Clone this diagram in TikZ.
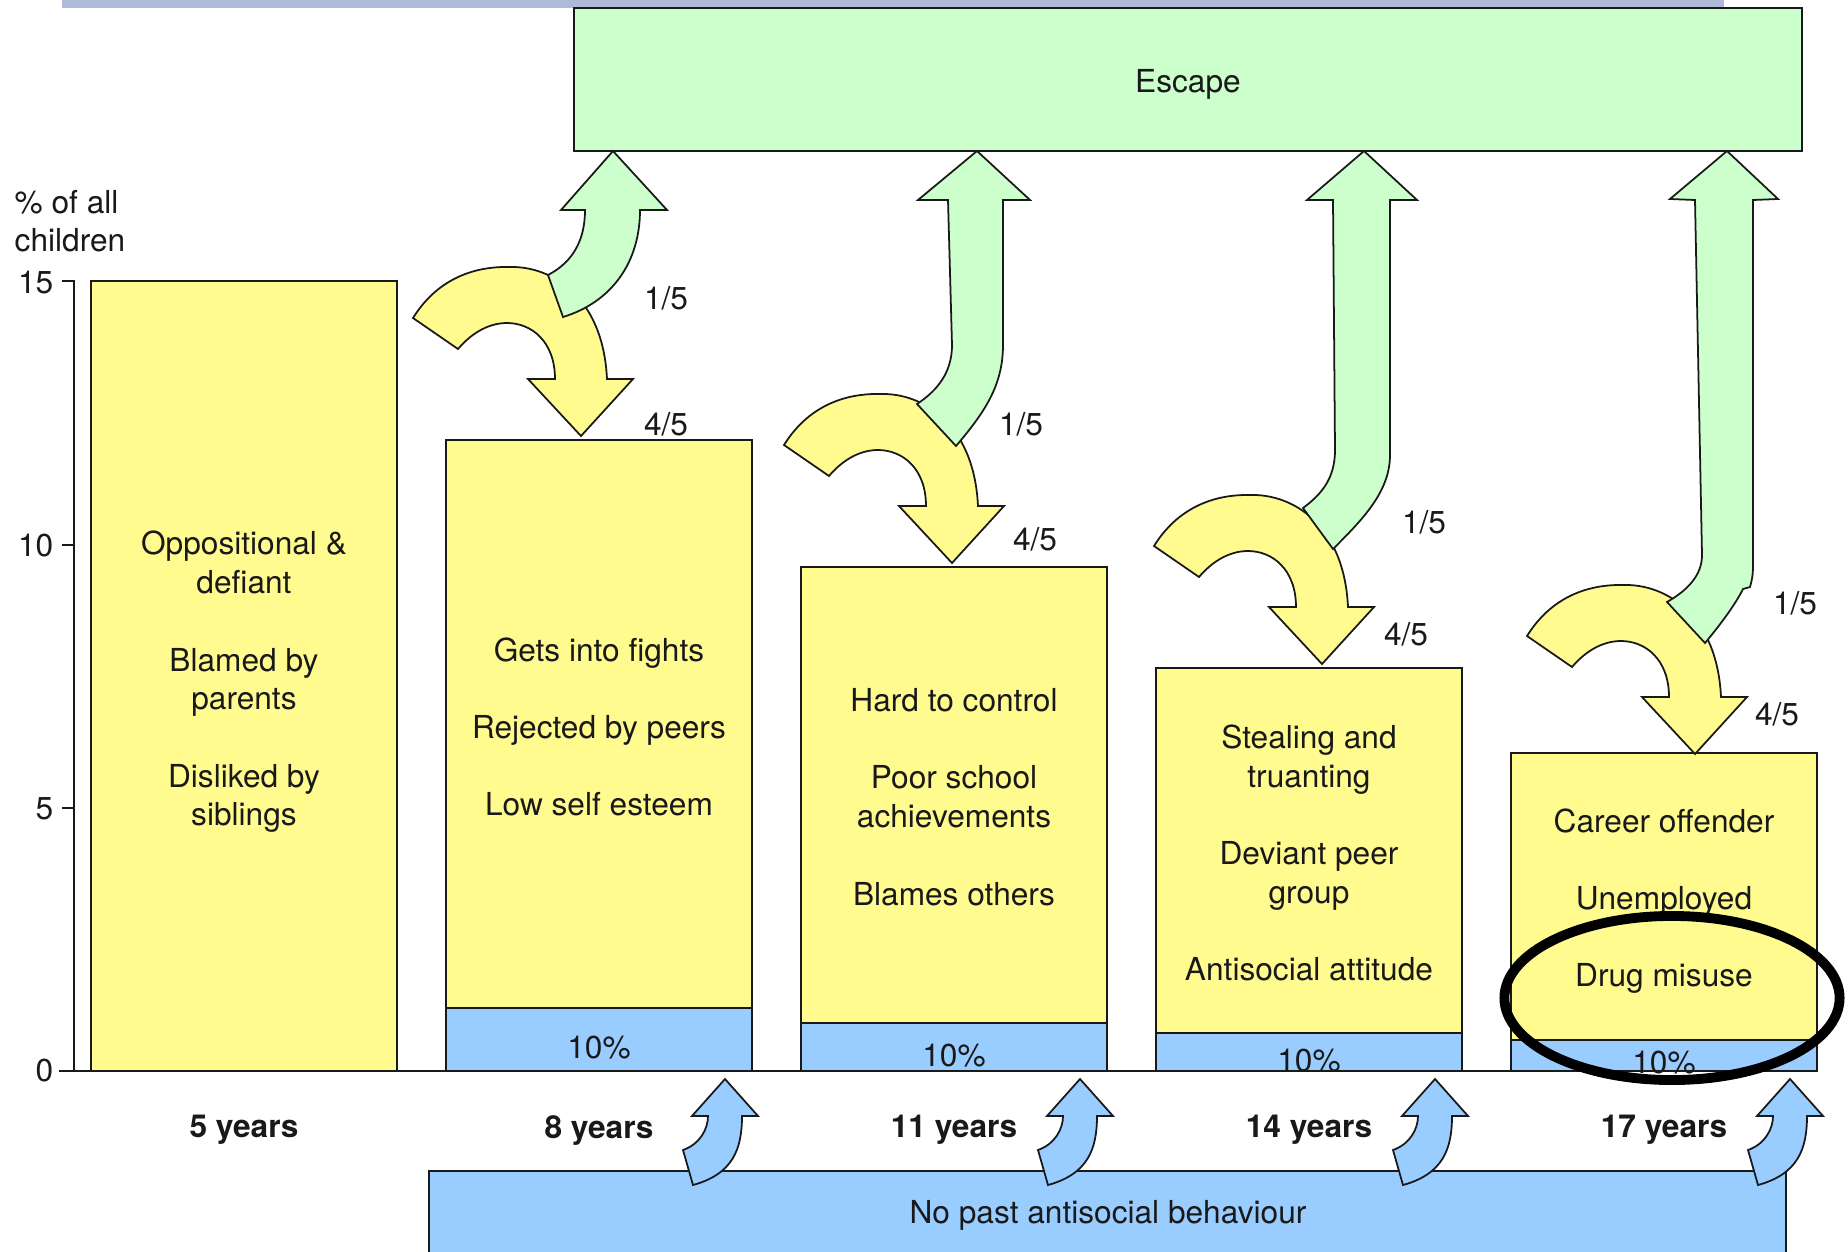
\documentclass[tikz,border=0pt]{standalone}
\usepackage{fontspec}
\setmainfont{TeX Gyre Heros}
\usepackage{tikz}
\definecolor{baryellow}{RGB}{255,251,143}
\definecolor{barblue}{RGB}{153,204,255}
\definecolor{escgreen}{RGB}{204,255,204}
\definecolor{stripblue}{RGB}{173,187,214}
\definecolor{inkgrey}{RGB}{25,25,25}
\newcommand{\YArrow}[2]{\filldraw[yarrow,shift={(#1,#2)}] (0,0) -- (52,-57) -- (26,-57)
  .. controls (22,-140) and (-30,-170) .. (-71,-169)
  .. controls (-110,-170) and (-145,-155) .. (-168,-118) -- (-123,-87)
  .. controls (-112,-100) and (-95,-113) .. (-74,-113)
  .. controls (-50,-113) and (-26,-95) .. (-26,-57) -- (-53,-57) -- cycle;}
\newcommand{\BArrow}[2]{\filldraw[barrow,shift={(#1,#2)}] (0,0) -- (33,37) -- (17,37)
  .. controls (17,70) and (8,95) .. (-32,106) -- (-42,71)
  .. controls (-25,65) and (-17,50) .. (-17,37) -- (-33,37) -- cycle;}

\begin{document}
\begin{tikzpicture}[x=0.01cm,y=-0.01cm,
    lbl/.style={font=\fontsize{9}{11}\selectfont, text=inkgrey, inner sep=0pt, align=center},
    yrlbl/.style={lbl, font=\fontsize{9}{11}\selectfont\bfseries},
    box/.style={draw=inkgrey, line width=0.6pt},
    axis/.style={draw=inkgrey, line width=0.6pt},
    yarrow/.style={box, fill=baryellow, line width=0.5pt},
    barrow/.style={box, fill=barblue, line width=0.5pt},
    garrow/.style={box, fill=escgreen, line width=0.5pt}]
    \useasboundingbox (0,0) rectangle (1848,1251);
    \clip (0,0) rectangle (1848,1251);
    \fill[white] (0,0) rectangle (1848,1251);
    \fill[stripblue] (62,-5) rectangle (1724,8);
    \filldraw[box, fill=escgreen] (574,8) rectangle (1802,151);
    \node[lbl] (esc) at (1188,84) {Escape};
    % axis
    \node[lbl, anchor=west, align=left] (ylab) at (14,221) {\% of all\\children};
    \draw[axis] (62,281) -- (74,281) -- (74,1071);
    \draw[axis] (62,545) -- (74,545);
    \draw[axis] (62,808) -- (74,808);
    \node[lbl, anchor=east] (t15) at (54,283) {15};
    \node[lbl, anchor=east] (t10) at (54,546) {10};
    \node[lbl, anchor=east] (t5) at (54,809) {5};
    \node[lbl, anchor=east] (t0) at (54,1071) {0};
    % bars
    \filldraw[box, fill=baryellow] (91,281) rectangle (397,1071);
    \filldraw[box, fill=baryellow] (446,440) rectangle (752,1008);
    \filldraw[box, fill=barblue] (446,1008) rectangle (752,1071);
    \filldraw[box, fill=baryellow] (801,567) rectangle (1107,1023);
    \filldraw[box, fill=barblue] (801,1023) rectangle (1107,1071);
    \filldraw[box, fill=baryellow] (1156,668) rectangle (1462,1033);
    \filldraw[box, fill=barblue] (1156,1033) rectangle (1462,1071);
    \filldraw[box, fill=baryellow] (1511,753) rectangle (1817,1040);
    \filldraw[box, fill=barblue] (1511,1040) rectangle (1817,1071);
    \draw[axis] (59,1071) -- (1818,1071);
    \node[lbl] (txt5) at (244,682) {Oppositional \&\\defiant\\[11pt]Blamed by\\parents\\[11pt]Disliked by\\siblings};
    \node[lbl] (txt8) at (599,727) {Gets into fights\\[11pt]Rejected by peers\\[11pt]Low self esteem};
    \node[lbl] (txt11) at (954,797) {Hard to control\\[11pt]Poor school\\achievements\\[11pt]Blames others};
    \node[lbl] (txt14) at (1309,853) {Stealing and\\truanting\\[11pt]Deviant peer\\group\\[11pt]Antisocial attitude};
    \node[lbl] (txt17) at (1664,901) {Career offender\\[11pt]Unemployed\\[11pt]Drug misuse};
    \node[lbl] (pc8) at (599,1048) {10\%};
    \node[lbl] (pc11) at (954,1056) {10\%};
    \node[lbl] (pc14) at (1309,1061) {10\%};
    \node[lbl] (pc17) at (1664,1063) {10\%};
    \node[yrlbl] (yr5) at (244,1130) {5 years};
    \node[yrlbl] (yr8) at (599,1130) {8 years};
    \node[yrlbl] (yr11) at (954,1130) {11 years};
    \node[yrlbl] (yr14) at (1309,1130) {14 years};
    \node[yrlbl] (yr17) at (1664,1130) {17 years};
    % no past antisocial behaviour
    \filldraw[box, fill=barblue] (429,1171) rectangle (1786,1270);
    \node[lbl] (nopast) at (1108,1215) {No past antisocial behaviour};
    \BArrow{725}{1079}
    \BArrow{1080}{1079}
    \BArrow{1435}{1079}
    \BArrow{1790}{1079}
    % persisting
    \YArrow{581}{436}
    \YArrow{952}{563}
    \YArrow{1322}{664}
    \YArrow{1695}{754}
    % escape
    \filldraw[garrow] (613,151) -- (667,210) -- (640,210) .. controls (640,262) and (612,302) .. (563,317)
        -- (548,275) .. controls (573,262) and (585,240) .. (585,210) -- (561,210) -- cycle;
    \filldraw[garrow] (977,151) -- (1030,200) -- (1003,200) -- (1003,345) .. controls (1003,385) and (985,412) .. (956,446)
        -- (917,404) .. controls (938,390) and (952,372) .. (952,345) -- (948,200) -- (918,200) -- cycle;
    \filldraw[garrow] (1364,151) -- (1417,200) -- (1390,200) -- (1390,455) .. controls (1390,492) and (1362,520) .. (1333,549)
        -- (1303,508) .. controls (1322,494) and (1335,478) .. (1335,450) -- (1333,200) -- (1307,200) -- cycle;
    \filldraw[garrow] (1727,151) -- (1778,199) -- (1753,200) -- (1753,565) .. controls (1753,575) and (1752,580) .. (1750,587)
        -- (1743,589) .. controls (1735,605) and (1720,625) .. (1705,643)
        -- (1667,602) .. controls (1688,590) and (1702,575) .. (1702,555) -- (1695,200) -- (1670,199) -- cycle;
    \node[lbl] (fe1) at (666,298) {1/5};
    \node[lbl] (fp1) at (666,424) {4/5};
    \node[lbl] (fe2) at (1021,424) {1/5};
    \node[lbl] (fp2) at (1035,539) {4/5};
    \node[lbl] (fe3) at (1424,522) {1/5};
    \node[lbl] (fp3) at (1406,634) {4/5};
    \node[lbl] (fe4) at (1795,603) {1/5};
    \node[lbl] (fp4) at (1777,714) {4/5};
    \draw[line width=2.8pt] (1672,998) ellipse (1.675cm and 0.82cm);
\end{tikzpicture}
\end{document}
